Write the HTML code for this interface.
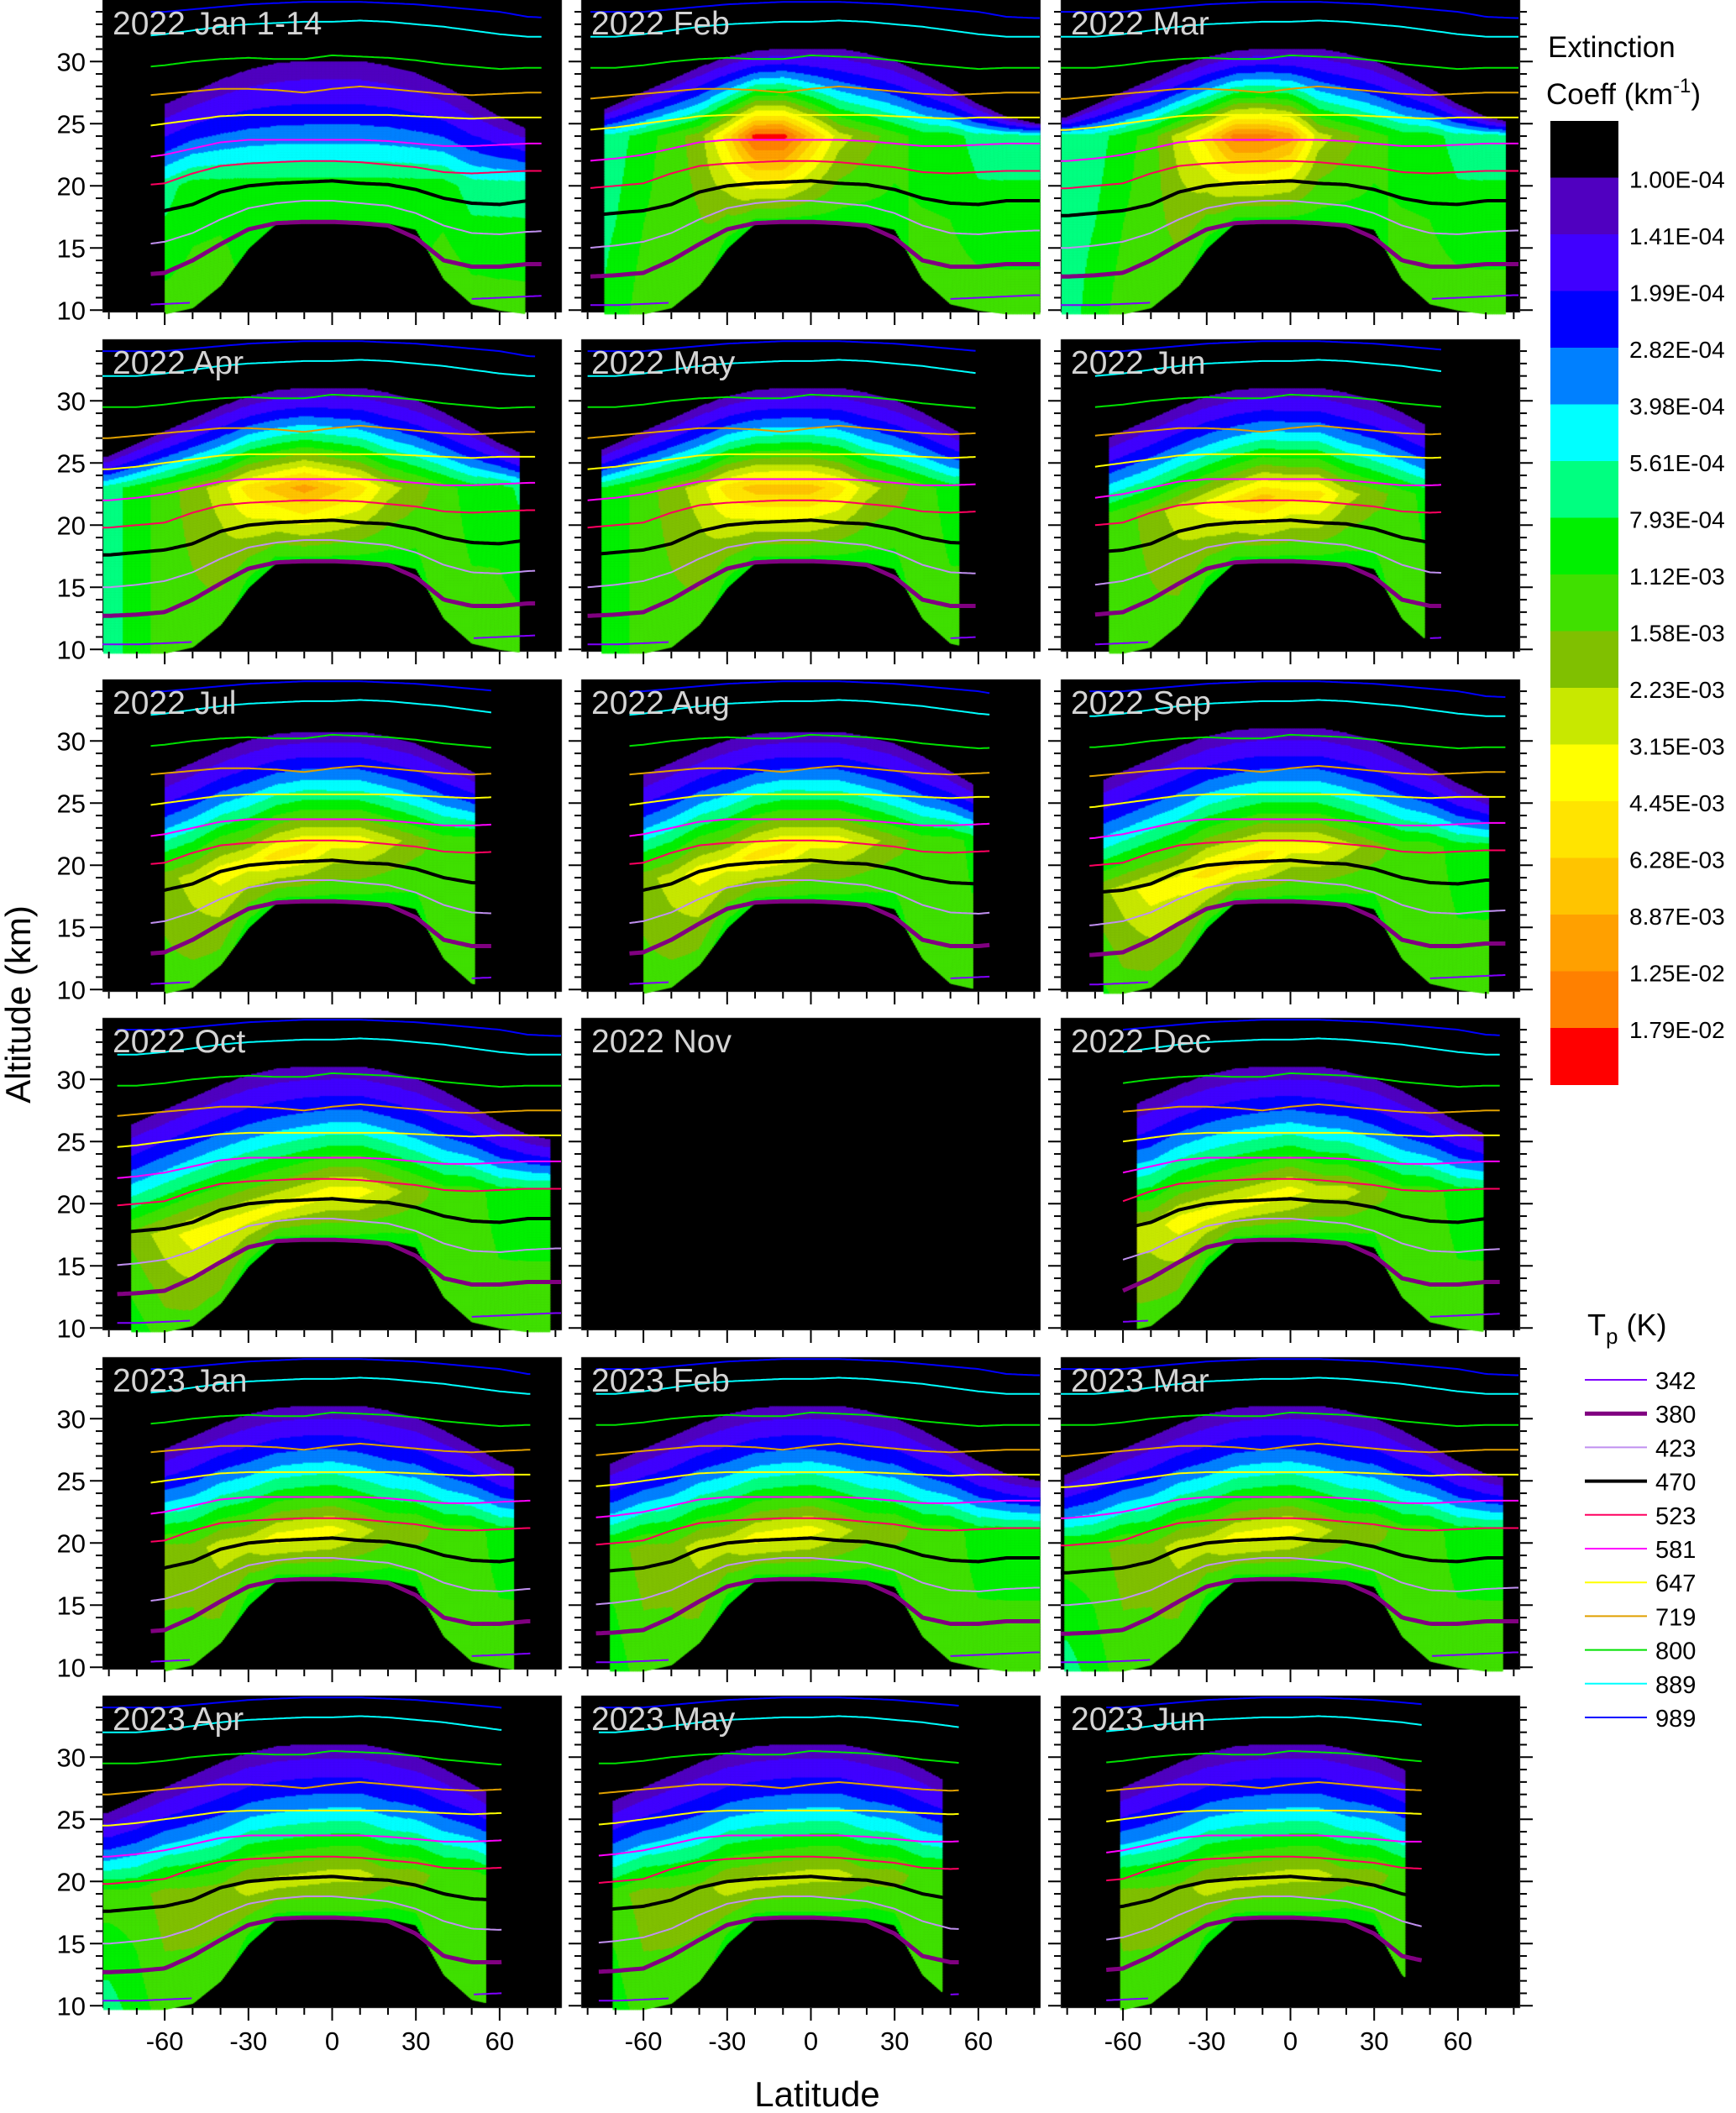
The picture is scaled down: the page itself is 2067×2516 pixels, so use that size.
<!DOCTYPE html>
<html><head><meta charset="utf-8">
<style>
html,body{margin:0;padding:0;background:#fff;}
#wrap{position:relative;width:2067px;height:2516px;overflow:hidden;}
canvas,svg{position:absolute;left:0;top:0;}
text{font-family:"Liberation Sans",Arial,sans-serif;}
</style></head>
<body>
<div id="wrap">
<canvas id="cv" width="2067" height="2516"></canvas>
<svg id="sv" width="2067" height="2516" xmlns="http://www.w3.org/2000/svg">
  <text x="36" y="1196" font-size="42" text-anchor="middle" transform="rotate(-90 36 1196)">Altitude (km)</text>
  <text x="973" y="2508" font-size="42" text-anchor="middle">Latitude</text>
  <text x="1843" y="68" font-size="35">Extinction</text>
  <text x="1841" y="124" font-size="35">Coeff (km<tspan dy="-14" font-size="24">-1</tspan><tspan dy="14">)</tspan></text>
  <text x="1890" y="1590" font-size="36">T<tspan dy="10" font-size="26">p</tspan><tspan dy="-10"> (K)</tspan></text>
</svg>
</div>
<script>
// ---------- data ----------
const lats = [-80,-70,-60,-50,-40,-30,-20,-10,0,10,20,30,40,50,60,70,80];
const panelTitles = ["2022 Jan 1-14","2022 Feb","2022 Mar","2022 Apr","2022 May","2022 Jun","2022 Jul","2022 Aug","2022 Sep","2022 Oct","2022 Nov","2022 Dec","2023 Jan","2023 Feb","2023 Mar","2023 Apr","2023 May","2023 Jun"];
const coverageLo = [-60,-74,-82,-82,-75,-65,-60,-60,-67,-72,null,-55,-60,-72,-81,-82,-71,-61];
const coverageHi = [69,82,77,67,53,48,51,58,71,78,null,69,65,82,76,55,47,41];
const peakAlt = [20,24,24,23,23,22.5,22,22,21.5,21,null,21,21,21,21,20.5,20.5,20.5];
const peakAltSlope = [0,0,0,0,0,0.3,0.6,0.6,0.7,0.7,null,0.6,0.3,0.3,0.3,0.3,0.3,0.3];
const topOffset = [-1,0,0,0,0,0,-0.3,-0.3,0,0,null,0,0,0,0,0,0,0];
const peakLevel = [
 [6,6,6,7,7,7,7,7,7,7,7,7,7,6,6,6,6],
 [6,6,7,8,9,12,16,16,13,10,9,8,7,7,6,6,6],
 [6,6,7,8,10,12,15,15,14,10,9,8,7,7,6,6,6],
 [6,7,8,9,10,12,13,14,13,12,10,9,8,7,7,6,6],
 [6,7,8,9,10,12,13,13,13,12,10,9,8,7,7,6,6],
 [6,7,8,9,10,11,12,13,12,12,10,9,8,7,7,6,6],
 [7,8,9,10,11,11,12,12,11,11,10,9,8,8,7,7,7],
 [7,8,9,10,11,11,12,12,11,11,10,9,8,8,7,7,7],
 [8,9,10,11,11,12,12,12,11,11,10,9,8,8,7,7,7],
 [8,9,10,11,11,11,11,11,11,11,10,9,8,8,7,7,7],
 null,
 [8,9,10,10,11,11,11,11,11,10,10,9,8,8,7,7,7],
 [8,8,9,9,10,10,11,11,11,10,9,9,8,8,7,7,7],
 [8,8,9,9,10,10,11,11,11,10,9,9,8,8,7,7,7],
 [8,8,9,9,10,10,11,11,11,10,9,9,8,8,7,7,7],
 [8,8,9,9,9,10,10,10,10,10,9,9,8,8,7,7,7],
 [8,8,9,9,9,10,10,10,10,10,9,9,8,8,7,7,7],
 [8,8,9,9,9,10,10,10,10,10,9,9,8,8,7,7,7]
];
const dataTop = [25.5,26.5,27.5,28.5,29.5,30.3,30.8,31,31,31,30.6,30,29,27.8,26.5,25.5,25];
const dataBottom = [9.7,9.7,9.7,10.2,12,15,17,17,17,17,17,16.5,12.5,10.5,10,9.7,9.7];
const bottomLevel = [6,7,8,8,8,7,7,7,7,7,7,7,8,8,8,8,8];
const levelColors = ["#000000","#5000C0","#4000FF","#0000FF","#0080FF","#00FFFF","#00FF80","#00F000","#40E000","#80C000","#C8E800","#FFFF00","#FFE400","#FFC400","#FFA000","#FF8000","#FF0000"];
const colorbarLabels = ["1.00E-04","1.41E-04","1.99E-04","2.82E-04","3.98E-04","5.61E-04","7.93E-04","1.12E-03","1.58E-03","2.23E-03","3.15E-03","4.45E-03","6.28E-03","8.87E-03","1.25E-02","1.79E-02"];
const thetaNames = ["342","380","423","470","523","581","647","719","800","889","989"];
const thetaColors = ["#8000FF","#800080","#C090F0","#000000","#FF0060","#FF00FF","#FFFF00","#E0A000","#00E000","#00FFFF","#0000FF"];
const thetaWidths = [2,5,2,4,2,2,2,2,2,2,2];
const theta342 = [10.4,10.4,10.5,10.6,null,null,null,null,null,null,null,null,null,10.9,11,11.1,11.2];
const theta380 = [12.7,12.8,13,14,15.3,16.5,17,17.1,17.1,17,16.8,15.8,14,13.5,13.5,13.7,13.7];
const theta423 = [15,15.2,15.5,16.2,17.3,18.2,18.6,18.8,18.8,18.6,18.4,17.8,16.8,16.2,16.1,16.3,16.4];
const theta470 = [17.6,17.8,18,18.5,19.5,20,20.2,20.3,20.4,20.2,20.1,19.7,19,18.6,18.5,18.8,18.8];
const theta523 = [19.8,20,20.2,21,21.6,21.8,21.9,22,22,21.9,21.7,21.5,21.1,21,21.1,21.2,21.2];
const theta581 = [22,22.2,22.5,23,23.5,23.7,23.7,23.7,23.7,23.7,23.6,23.4,23.2,23.2,23.3,23.4,23.4];
const theta647 = [24.5,24.7,25,25.3,25.6,25.7,25.7,25.7,25.7,25.7,25.7,25.6,25.5,25.4,25.5,25.5,25.5];
const theta719 = [27,27.2,27.4,27.6,27.8,27.8,27.7,27.5,27.8,28,27.8,27.6,27.4,27.3,27.4,27.5,27.5];
const theta800 = [29.5,29.5,29.7,30,30.2,30.3,30.2,30.2,30.5,30.4,30.3,30.1,29.8,29.6,29.4,29.5,29.5];
const theta889 = [32,32,32.2,32.5,32.8,33,33.1,33.2,33.2,33.3,33.2,33,32.8,32.5,32.2,32,32];
const theta989 = [34,34,34,34.2,34.4,34.6,34.7,34.8,34.8,34.8,34.7,34.6,34.4,34.2,34,33.6,33.5];
const thetaAlts = [theta342,theta380,theta423,theta470,theta523,theta581,theta647,theta719,theta800,theta889,theta989];
const latTicks = [-80,-70,-60,-50,-40,-30,-20,-10,0,10,20,30,40,50,60,70,80];
const latLabels = [-60,-30,0,30,60];
const altLabels = [10,15,20,25,30];

// ---------- layout ----------
const colX=[122,692,1263], rowY=[0,404,809,1212,1616,2019], PW=547, PH=372;
const LAT0=-82.3, LAT1=82.3, ZTOP=34.95, PXKM=14.8;
function xS(lat,c){return colX[c]+(lat-LAT0)/(LAT1-LAT0)*PW;}
function yS(z,r){return rowY[r]+(ZTOP-z)*PXKM;}
function interp(arr,lat){
  if(lat<=lats[0])return arr[0];
  if(lat>=lats[lats.length-1])return arr[arr.length-1];
  const i=Math.floor((lat-lats[0])/10), t=(lat-lats[i])/10;
  const a=arr[i],b=arr[i+1];
  if(a==null||b==null)return null;
  return a+(b-a)*t;
}
const NS="http://www.w3.org/2000/svg";
const svg=document.getElementById('sv');
function mk(tag,attrs){const e=document.createElementNS(NS,tag);for(const k in attrs)e.setAttribute(k,attrs[k]);return e;}

// ---------- heatmaps ----------
const ctx=document.getElementById('cv').getContext('2d');
for(let p=0;p<18;p++){
  const c=p%3, r=Math.floor(p/3);
  ctx.fillStyle="#000";ctx.fillRect(colX[c],rowY[r],PW,PH);
  if(peakLevel[p]==null)continue;
  const lo=coverageLo[p], hi=coverageHi[p];
  for(let lat=lo;lat<hi;lat+=0.5){
    const lc=lat+0.25;
    const P=interp(peakLevel[p],lc), top=interp(dataTop,lc)+topOffset[p];
    const bot=interp(dataBottom,lc), B=interp(bottomLevel,lc);
    const pz=peakAlt[p]+(lc<0?peakAltSlope[p]*Math.max(lc,-50)/10:0);
    const x0=xS(lat,c), x1=xS(lat+0.5,c);
    for(let z=bot;z<top;z+=0.1){
      let lv;
      if(z>=pz){const f=(top-z)/(top-pz); lv=1+(P-1)*Math.pow(f,1.3);}
      else{const g=Math.max(0,(z-bot)/Math.max(pz-bot,0.5)); lv=B+(P-B)*g;}
      lv=Math.round(lv); if(lv<1)continue; if(lv>16)lv=16;
      ctx.fillStyle=levelColors[lv];
      ctx.fillRect(x0,yS(z+0.1,r),x1-x0+0.6,0.1*PXKM+0.6);
    }
  }
}

// ---------- panels: contours, ticks, titles ----------
for(let p=0;p<18;p++){
  const c=p%3, r=Math.floor(p/3);
  const g=mk('g',{});
  
  
  svg.appendChild(g);
  if(peakLevel[p]!=null){
    const a=Math.max(coverageLo[p]-5,LAT0), b=Math.min(coverageHi[p]+6,LAT1);
    for(let k=0;k<thetaNames.length;k++){
      let d="",pen=false;
      for(let lat=a;lat<=b+0.01;lat+=1){
        const z=interp(thetaAlts[k],Math.min(lat,b));
        if(z==null){pen=false;continue;}
        d+=(pen?"L":"M")+xS(Math.min(lat,b),c).toFixed(1)+" "+yS(z,r).toFixed(1)+" ";pen=true;
      }
      const path=mk('path',{d:d,fill:"none",stroke:thetaColors[k],"stroke-width":thetaWidths[k]});
      
      
      g.appendChild(path);
    }
  }
  const t=mk('text',{x:colX[c]+12,y:rowY[r]+41,"font-size":39,fill:"#d4d4d4"});
  t.textContent=panelTitles[p];
  
  
  g.appendChild(t);
  for(let z=10;z<=34;z++){
    const y=yS(z,r), L=(z%5==0)?15:8;
    const tk=mk('line',{x1:colX[c]-L,x2:colX[c],y1:y,y2:y,stroke:"#000","stroke-width":2});
    
    
    g.appendChild(tk);
    if(c==2){
      const tr=mk('line',{x1:colX[c]+PW,x2:colX[c]+PW+L,y1:y,y2:y,stroke:"#000","stroke-width":2});
      
      
      g.appendChild(tr);
    }
  }
  if(c==0){
    for(const v of altLabels){
      const lt=mk('text',{x:colX[c]-20,y:yS(v,r)+11,"font-size":31,"text-anchor":"end"});
      lt.textContent=v;
      
      
      g.appendChild(lt);
    }
  }
  for(const v of latTicks){
    const x=xS(v,c), L=(v%30==0)?15:8;
    const tk=mk('line',{x1:x,x2:x,y1:rowY[r]+PH,y2:rowY[r]+PH+L,stroke:"#000","stroke-width":2});
    
    
    g.appendChild(tk);
  }
  if(r==5){
    for(const v of latLabels){
      const lt=mk('text',{x:xS(v,c),y:rowY[r]+PH+50,"font-size":31,"text-anchor":"middle"});
      lt.textContent=v;
      
      
      g.appendChild(lt);
    }
  }
}

// ---------- colorbar ----------
const CB_X=1846, CB_W=81, CB_TOP=144, CB_H=67.5;
for(let i=0;i<levelColors.length;i++){
  const rc=mk('rect',{x:CB_X,y:CB_TOP+i*CB_H,width:CB_W,height:CB_H+0.5,fill:levelColors[i]});
  
  
  svg.appendChild(rc);
}
for(let i=0;i<colorbarLabels.length;i++){
  const lt=mk('text',{x:1940,y:CB_TOP+(i+1)*CB_H+12,"font-size":28});
  lt.textContent=colorbarLabels[i];
  
  
  svg.appendChild(lt);
}

// ---------- legend ----------
for(let k=0;k<thetaNames.length;k++){
  const y=1643+k*40.2;
  const ln=mk('line',{x1:1887,x2:1961,y1:y,y2:y,stroke:thetaColors[k],"stroke-width":thetaWidths[k]});
  
  
  svg.appendChild(ln);
  const lt=mk('text',{x:1971,y:y+11,"font-size":29});
  lt.textContent=thetaNames[k];
  
  
  svg.appendChild(lt);
}
</script>
</body></html>
